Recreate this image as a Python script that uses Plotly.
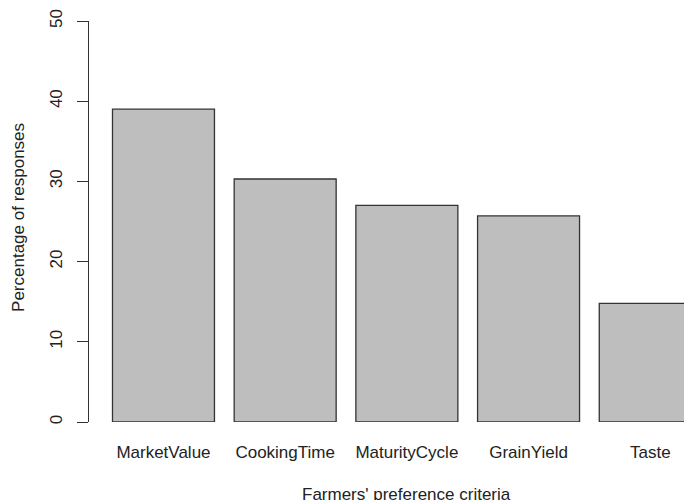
import plotly.graph_objects as go

# Farmers' preference criteria (percentage of responses)
criteria = ["MarketValue", "CookingTime", "MaturityCycle", "GrainYield", "Taste"]
percent = [39.0, 30.3, 27.0, 25.7, 14.8]
y_ticks = [0, 10, 20, 30, 40, 50]

FONT = dict(family="Liberation Sans, Arial, sans-serif", size=17, color="#222222")

# the page body has an 8px margin, so the figure is 8px smaller than the window
fig = go.Figure()
fig.add_trace(go.Bar(
    x=criteria, y=percent,
    marker=dict(color="#BEBEBE", line=dict(color="#333333", width=1.3)),
    hoverinfo="x+y",
))

fig.update_layout(
    width=684, height=492,
    margin=dict(l=81, r=0, t=13, b=78),
    paper_bgcolor="white", plot_bgcolor="white",
    font=FONT,
    bargap=0.162,
    showlegend=False,
)

fig.update_xaxes(
    range=[-0.612, 4.343],
    showline=False, showgrid=False, zeroline=False,
    ticks="", ticklabelstandoff=18,
    tickfont=FONT,
)
fig.update_yaxes(
    range=[0, 50],
    tickvals=y_ticks,
    showline=True, linecolor="#333333", linewidth=1,
    ticks="outside", ticklen=11, tickcolor="#333333", tickwidth=1,
    tickangle=-90, ticklabelstandoff=8,
    showgrid=False, zeroline=False,
    tickfont=FONT,
)

# axis titles, centred the way R centres them on its (wider) plot region
fig.add_annotation(
    text="Percentage of responses", textangle=-90,
    xref="paper", yref="paper", x=-0.117, y=0.51,
    xanchor="center", yanchor="middle", showarrow=False, font=FONT,
)
fig.add_annotation(
    text="Farmers' preference criteria",
    xref="paper", yref="paper", x=0.526, y=-0.18,
    xanchor="center", yanchor="middle", showarrow=False, font=FONT,
)

fig.write_html("out.html")
